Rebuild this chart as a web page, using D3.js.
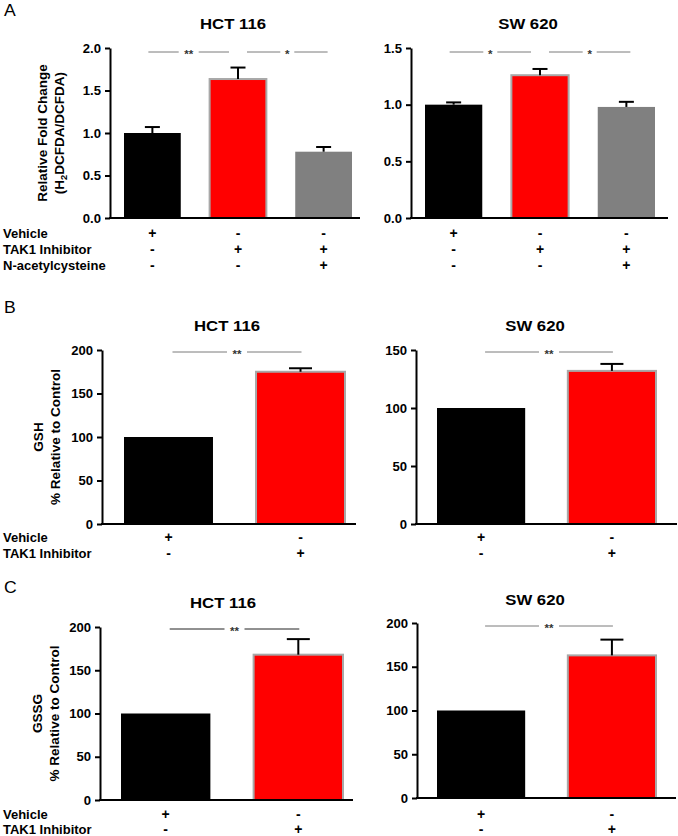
<!DOCTYPE html>
<html>
<head>
<meta charset="utf-8">
<script src="https://d3js.org/d3.v7.min.js"></script>
<style>
  body { margin: 0; background: #fff; }
  text { font-family: "Liberation Sans", Arial, sans-serif; }
</style>
</head>
<body>
<script>
  // ---- data ----
  const condA = ["Vehicle", "TAK1 Inhibitor", "N-acetylcysteine"];
  const signsA = [["+", "-", "-"], ["-", "+", "+"], ["-", "-", "+"]];
  const condBC = ["Vehicle", "TAK1 Inhibitor"];
  const signsBC = [["+", "-"], ["-", "+"]];

  const rosHct = [1.0, 1.635, 0.78];
  const rosHctErr = [0.07, 0.135, 0.055];
  const rosSw = [1.0, 1.26, 0.98];
  const rosSwErr = [0.02, 0.055, 0.045];

  const gshHct = [100, 175];
  const gshHctErr = [0, 4];
  const gshSw = [100, 132];
  const gshSwErr = [0, 6];

  const gssgHct = [100, 168];
  const gssgHctErr = [0, 18];
  const gssgSw = [100, 163];
  const gssgSwErr = [0, 18];

  const ticks2 = [0, 0.5, 1.0, 1.5, 2.0];
  const ticks15 = [0, 0.5, 1.0, 1.5];
  const ticks200 = [0, 50, 100, 150, 200];
  const ticks150 = [0, 50, 100, 150];

  const sigA1 = [[0, 1, "**"], [1, 2, "*"]];
  const sigA2 = [[0, 1, "*"], [1, 2, "*"]];
  const sigBC = [[0, 1, "**"]];

  // ---- styles ----
  const colors3 = ["#000000", "#ff0000", "#808080"];
  const colors2 = ["#000000", "#ff0000"];
  const SX = 1.05;

  var svg = d3.select("body").append("svg")
    .attr("width", 678)
    .attr("height", 836);

  function txt(g, x, y, s, o) {
    o = o || {};
    return g.append("text")
      .attr("transform", `translate(${x},${y}) rotate(${o.rot || 0}) scale(${o.sx || SX},1)`)
      .attr("text-anchor", o.anchor || "middle")
      .style("font-size", (o.size || 12) + "px")
      .style("font-weight", o.weight || "bold")
      .attr("fill", o.fill || "#000")
      .text(s);
  }

  function drawPanel(p) {
    var g = svg.append("g");
    var n = p.values.length;

    var x = d3.scaleBand()
      .domain(d3.range(n))
      .range(p.band)
      .paddingInner(n == 3 ? 0.337 : 0.326)
      .paddingOuter(0);
    var y = d3.scaleLinear().domain([0, p.max]).range([p.y0, p.y1]);
    var cx = i => x(i) + x.bandwidth() / 2;

    // bars
    g.selectAll(".bar")
      .data(p.values)
      .join("rect")
      .attr("class", "bar")
      .attr("x", (d, i) => x(i))
      .attr("y", d => y(d))
      .attr("width", x.bandwidth())
      .attr("height", d => y(0) - y(d))
      .attr("fill", (d, i) => p.colors[i])
      .attr("stroke", (d, i) => i == 1 ? "#a8a8a8" : "none")
      .attr("stroke-width", 2);

    // error bars (upper only)
    var capW = n == 3 ? 15 : 23;
    p.errs.forEach(function(e, i) {
      if (!e) return;
      var top = y(p.values[i] + e);
      g.append("line")
        .attr("x1", cx(i)).attr("x2", cx(i))
        .attr("y1", y(p.values[i])).attr("y2", top)
        .attr("stroke", "#000").attr("stroke-width", 2);
      g.append("line")
        .attr("x1", cx(i) - capW / 2).attr("x2", cx(i) + capW / 2)
        .attr("y1", top).attr("y2", top)
        .attr("stroke", "#000").attr("stroke-width", 2);
    });

    // y axis
    var yAxis = d3.axisLeft(y)
      .tickValues(p.ticks)
      .tickFormat(d3.format(p.fmt))
      .tickSize(5)
      .tickSizeOuter(0)
      .tickPadding(4);
    var ag = g.append("g")
      .attr("transform", `translate(${p.ax},0)`)
      .call(yAxis);
    ag.attr("font-family", null).attr("font-size", null);
    ag.select(".domain").attr("stroke-width", 2);
    ag.selectAll(".tick line").attr("stroke-width", 2);
    ag.selectAll(".tick text")
      .attr("x", -9 / SX)
      .attr("transform", `scale(${SX},1)`)
      .style("font-size", "12.5px")
      .style("font-weight", "bold");

    // x axis baseline
    g.append("line")
      .attr("x1", p.ax - 1).attr("x2", p.xEnd)
      .attr("y1", y(0)).attr("y2", y(0))
      .attr("stroke", "#000").attr("stroke-width", 2);

    // significance brackets
    p.sig.forEach(function(s) {
      var sharedA = p.sig.some(t => t[1] == s[0]);
      var sharedB = p.sig.some(t => t[0] == s[1]);
      var xa = cx(s[0]) + (sharedA ? 9 : p.sigPad[0]);
      var xb = cx(s[1]) + (sharedB ? -9 : p.sigPad[1]);
      var mid = (xa + xb) / 2;
      var gap = 4 + 3 * s[2].length;
      g.append("line")
        .attr("x1", xa).attr("x2", mid - gap)
        .attr("y1", p.sigY).attr("y2", p.sigY)
        .attr("stroke", p.sigColor).attr("stroke-width", 1);
      g.append("line")
        .attr("x1", mid + gap).attr("x2", xb)
        .attr("y1", p.sigY).attr("y2", p.sigY)
        .attr("stroke", p.sigColor).attr("stroke-width", 1);
      txt(g, mid, p.sigY + 6, s[2], { size: 11, fill: "#333" });
    });

    // title
    txt(g, p.titleX, p.titleY, p.title, { size: 15.5, sx: 1.08 });

    // condition signs
    p.signs.forEach(function(row, r) {
      row.forEach(function(s, i) {
        txt(g, cx(i), p.rowY[r], s, { size: 14, sx: 1 });
      });
      if (p.rowLabels) {
        txt(g, 3, p.rowY[r], p.rowLabels[r], { size: 13, anchor: "start", sx: 1.0 });
      }
    });

    // y labels
    if (p.ylabels) {
      var mid = (p.y0 + p.y1) / 2;
      p.ylabels.forEach(function(l, k) {
        var t = txt(g, p.ylabelX[k], mid, "", { size: 13, rot: -90, sx: 1.04 });
        if (l == "H2") {
          t.append("tspan").text("(H");
          t.append("tspan").attr("dy", 3).style("font-size", "9px").text("2");
          t.append("tspan").attr("dy", -3).text("DCFDA/DCFDA)");
        } else {
          t.text(l);
        }
      });
    }
    return g;
  }

  // panel letters
  txt(svg, 4, 16, "A", { size: 16, weight: "normal", anchor: "start", sx: 1.1 });
  txt(svg, 4, 313, "B", { size: 16, weight: "normal", anchor: "start", sx: 1.1 });
  txt(svg, 4, 593, "C", { size: 16, weight: "normal", anchor: "start", sx: 1.1 });

  // A
  drawPanel({
    values: rosHct, errs: rosHctErr, colors: colors3, max: 2.0, ticks: ticks2, fmt: ".1f",
    ax: 110, xEnd: 360, band: [124, 352], y0: 218, y1: 48,
    sig: sigA1, sigY: 52, sigPad: [-4, 4], sigColor: "#7a7a7a",
    title: "HCT 116", titleX: 233, titleY: 29,
    signs: signsA, rowY: [238, 254, 270], rowLabels: condA,
    ylabels: ["Relative Fold Change", "H2"], ylabelX: [47, 64]
  });
  drawPanel({
    values: rosSw, errs: rosSwErr, colors: colors3, max: 1.5, ticks: ticks15, fmt: ".1f",
    ax: 411, xEnd: 668, band: [425, 655], y0: 218, y1: 48,
    sig: sigA2, sigY: 52, sigPad: [-4, 4], sigColor: "#7a7a7a",
    title: "SW 620", titleX: 528, titleY: 29,
    signs: signsA, rowY: [238, 254, 270]
  });

  // B
  drawPanel({
    values: gshHct, errs: gshHctErr, colors: colors2, max: 200, ticks: ticks200, fmt: "d",
    ax: 102, xEnd: 356, band: [124, 345], y0: 524, y1: 350,
    sig: sigBC, sigY: 352, sigPad: [4, 1], sigColor: "#7a7a7a",
    title: "HCT 116", titleX: 227, titleY: 331,
    signs: signsBC, rowY: [542, 558], rowLabels: condBC,
    ylabels: ["GSH", "% Relative to Control"], ylabelX: [43, 60]
  });
  drawPanel({
    values: gshSw, errs: gshSwErr, colors: colors2, max: 150, ticks: ticks150, fmt: "d",
    ax: 416, xEnd: 677, band: [437, 656], y0: 524, y1: 350,
    sig: sigBC, sigY: 352, sigPad: [4, 1], sigColor: "#7a7a7a",
    title: "SW 620", titleX: 535, titleY: 331,
    signs: signsBC, rowY: [542, 558]
  });

  // C
  drawPanel({
    values: gssgHct, errs: gssgHctErr, colors: colors2, max: 200, ticks: ticks200, fmt: "d",
    ax: 100, xEnd: 353, band: [121, 343], y0: 800, y1: 627,
    sig: sigBC, sigY: 629, sigPad: [4, 1], sigColor: "#222",
    title: "HCT 116", titleX: 223, titleY: 608,
    signs: signsBC, rowY: [819, 834], rowLabels: condBC,
    ylabels: ["GSSG", "% Relative to Control"], ylabelX: [42, 59]
  });
  drawPanel({
    values: gssgSw, errs: gssgSwErr, colors: colors2, max: 200, ticks: ticks200, fmt: "d",
    ax: 417, xEnd: 676, band: [437, 656], y0: 798, y1: 623,
    sig: sigBC, sigY: 626, sigPad: [4, 1], sigColor: "#7a7a7a",
    title: "SW 620", titleX: 535, titleY: 605,
    signs: signsBC, rowY: [819, 834]
  });
</script>
</body>
</html>
